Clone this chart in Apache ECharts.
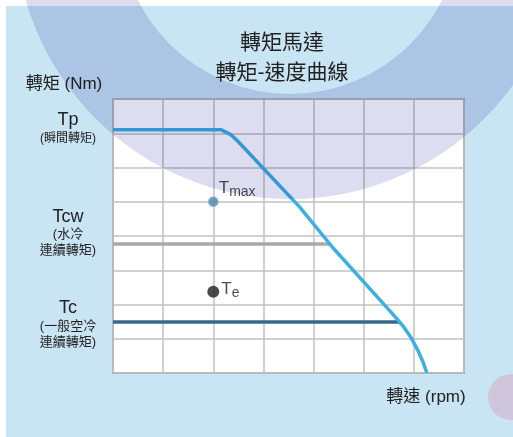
<!DOCTYPE html>
<html>
<head>
<meta charset="utf-8">
<script src="https://cdn.jsdelivr.net/npm/echarts@6/dist/echarts.min.js"></script>
<style>
  html, body { margin: 0; padding: 0; background: #fff; }
  #main { width: 513px; height: 437px; }
</style>
</head>
<body>
<div id="main"></div>
<script>
// 轉矩-速度曲線 (grid units: x 0..7, y 0..8)
var peakCurve = [[0, 7.1], [2.16, 7.1], [2.35, 6.96], [2.5, 6.75], [3.72, 4.85], [4.39, 3.65],
                 [5.58, 1.72], [5.78, 1.38], [5.95, 1.02], [6.08, 0.66], [6.18, 0.33], [6.26, 0]];
var tcwLine = [[0, 3.77], [4.32, 3.77]];   // 水冷連續轉矩
var tcLine = [[0, 1.49], [5.7, 1.49]];     // 一般空冷連續轉矩
var tmaxPoint = [2, 5];
var tePoint = [2, 2.37];

var titleText = '轉矩馬達\n轉矩-速度曲線';
var yName = '轉矩 (Nm)';
var xName = '轉速 (rpm)';

var fontFam = "'Liberation Sans', 'Noto Sans CJK TC', sans-serif";
var myChart = echarts.init(document.getElementById('main'));

function txt(text, x, y, size, z) {
    return {
        type: 'text', x: x, y: y, z: z || 5,
        style: {
            text: text, fontSize: size, fontFamily: fontFam, fill: '#222',
            textAlign: 'center', textVerticalAlign: 'middle', verticalAlign: 'middle'
        }
    };
}

var option = {
    animation: false,
    backgroundColor: '#fff',
    title: {
        text: titleText,
        left: 277,
        top: 23,
        textAlign: 'center',
        textStyle: {
            fontSize: 21,
            lineHeight: 30,
            fontWeight: 'normal',
            color: '#222',
            fontFamily: fontFam
        }
    },
    grid: {
        left: 113, top: 99, width: 351, height: 274,
        show: true,
        backgroundColor: '#fff',
        borderColor: '#a0a0a0',
        borderWidth: 2,
        outerBoundsMode: 'none'
    },
    xAxis: {
        type: 'value', min: 0, max: 7, interval: 1,
        axisLine: { show: false }, axisTick: { show: false }, axisLabel: { show: false },
        splitLine: { show: true, lineStyle: { color: '#c2c2c2', width: 1.5 } }
    },
    yAxis: {
        type: 'value', min: 0, max: 8, interval: 1,
        axisLine: { show: false }, axisTick: { show: false }, axisLabel: { show: false },
        splitLine: { show: true, lineStyle: { color: '#c2c2c2', width: 1.5 } }
    },
    series: [
        {
            type: 'line', data: tcwLine, symbol: 'none', z: 3,
            lineStyle: { color: '#a9a9a9', width: 3.5 }
        },
        {
            type: 'line', data: tcLine, symbol: 'none', z: 3,
            lineStyle: { color: '#37698a', width: 3.5 }
        },
        {
            type: 'line', data: peakCurve, symbol: 'none', z: 4,
            lineStyle: { color: '#3cb1e1', width: 3.5, join: 'round' }
        },
        {
            type: 'scatter', z: 5,
            data: [{ value: tmaxPoint, name: 'Tmax' }],
            symbolSize: 10,
            itemStyle: { color: '#4a86ab', borderColor: '#9cc4dc', borderWidth: 1 },
            label: {
                show: true, position: [11, -16],
                formatter: '{a|T}{b|max}',
                rich: {
                    a: { fontSize: 17, fontFamily: fontFam, color: '#222', lineHeight: 20, verticalAlign: 'top' },
                    b: { fontSize: 14, fontFamily: fontFam, color: '#222', lineHeight: 20, verticalAlign: 'top', padding: [5, 0, 0, 0] }
                }
            }
        },
        {
            type: 'scatter', z: 5,
            data: [{ value: tePoint, name: 'Te' }],
            symbolSize: 12,
            itemStyle: { color: '#1e1e1e' },
            label: {
                show: true, position: [14, -5],
                formatter: '{a|T}{b|e}',
                rich: {
                    a: { fontSize: 17, fontFamily: fontFam, color: '#222', lineHeight: 20, verticalAlign: 'top' },
                    b: { fontSize: 14, fontFamily: fontFam, color: '#222', lineHeight: 20, verticalAlign: 'top', padding: [5, 0, 0, 0] }
                }
            }
        }
    ],
    graphic: [
        // 淺藍底
        { type: 'rect', z: -100, shape: { x: 6, y: 6, width: 507, height: 431 }, style: { fill: '#c9e4f3' } },
        { type: 'circle', z: -90, shape: { cx: 511, cy: 397, r: 23 }, style: { fill: '#d0c6dc' } },
        // 浮水印圓環 (multiply)
        {
            type: 'ring', z: 100, silent: true,
            shape: { cx: 290, cy: -76, r: 275, r0: 170 },
            style: { fill: 'rgb(220,221,240)', blend: 'multiply' }
        },
        txt(yName, 64, 84, 17),
        txt(xName, 426, 397, 17),
        txt('Tp', 68, 120, 18),
        txt('(瞬間轉矩)', 68, 139, 12),
        txt('Tcw', 68, 217, 18),
        txt('(水冷', 68, 234, 13),
        txt('連續轉矩)', 68, 250, 13),
        txt('Tc', 68, 308, 18),
        txt('(一般空冷', 68, 326, 13),
        txt('連續轉矩)', 68, 342, 13)
    ]
};

myChart.setOption(option);
</script>
</body>
</html>
